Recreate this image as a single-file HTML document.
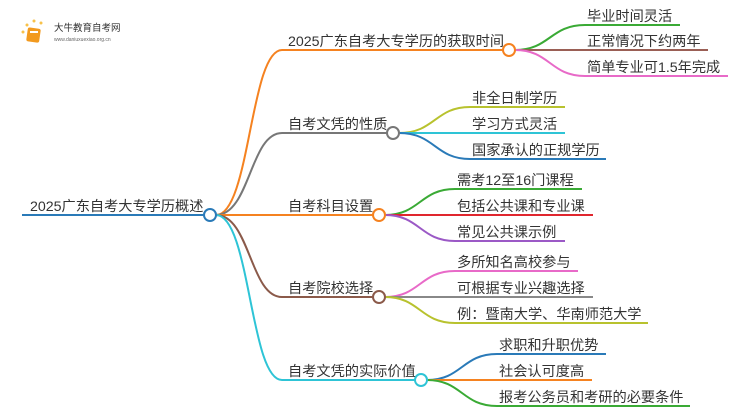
<!DOCTYPE html>
<html><head><meta charset="utf-8"><style>
html,body{margin:0;padding:0;background:#fff;width:750px;height:410px;overflow:hidden}
text{font-family:"Liberation Sans","Noto Sans CJK SC",sans-serif;fill:#333;font-size:14.2px}
</style></head><body>
<svg width="750" height="410" viewBox="0 0 750 410" xmlns="http://www.w3.org/2000/svg">
<g fill="none" stroke-width="2">
<path d="M22 215 H204" stroke="#2a7ab8"/>
<path d="M216 215 C250 215 250 50 282 50 H503" stroke="#f58220"/>
<path d="M216 215 C250 215 250 133 282 133 H387" stroke="#777"/>
<path d="M216 215 H373" stroke="#f58220"/>
<path d="M216 215 C250 215 250 297 282 297 H373" stroke="#8b5a4a"/>
<path d="M216 215 C250 215 250 380 282 380 H415" stroke="#2ec4d6"/>
<path d="M515 50 C550 50 550 25 585 25 H680" stroke="#3aaa35"/>
<path d="M515 50 H708" stroke="#9a5f55"/>
<path d="M515 50 C550 50 550 76 585 76 H728" stroke="#e86ac8"/>
<path d="M399 133 C435 133 435 107 470 107 H565" stroke="#b8c22e"/>
<path d="M399 133 H565" stroke="#2ec4d6"/>
<path d="M399 133 C435 133 435 159 470 159 H606" stroke="#2a7ab8"/>
<path d="M385 215 C420 215 420 189 455 189 H582" stroke="#3aaa35"/>
<path d="M385 215 H593" stroke="#e0262e"/>
<path d="M385 215 C420 215 420 241 455 241 H565" stroke="#9b59c6"/>
<path d="M385 297 C420 297 420 271 455 271 H578" stroke="#e86ac8"/>
<path d="M385 297 H593" stroke="#888"/>
<path d="M385 297 C420 297 420 323 455 323 H648" stroke="#b8c22e"/>
<path d="M427 380 C462 380 462 354 497 354 H606" stroke="#2a7ab8"/>
<path d="M427 380 H592" stroke="#f58220"/>
<path d="M427 380 C462 380 462 406 497 406 H690" stroke="#3aaa35"/>
</g>
<g fill="#fff" stroke-width="2">
<circle cx="210" cy="215" r="6" stroke="#2a7ab8"/>
<circle cx="509" cy="50" r="6" stroke="#f58220"/>
<circle cx="393" cy="133" r="6" stroke="#777"/>
<circle cx="379" cy="215" r="6" stroke="#f58220"/>
<circle cx="379" cy="297" r="6" stroke="#8b5a4a"/>
<circle cx="421" cy="380" r="6" stroke="#2ec4d6"/>
</g>
<text x="30" y="211">2025广东自考大专学历概述</text>
<text x="288" y="46">2025广东自考大专学历的获取时间</text>
<text x="288" y="129">自考文凭的性质</text>
<text x="288" y="211">自考科目设置</text>
<text x="288" y="293">自考院校选择</text>
<text x="288" y="376">自考文凭的实际价值</text>
<text x="587" y="21">毕业时间灵活</text>
<text x="587" y="46">正常情况下约两年</text>
<text x="587" y="72">简单专业可1.5年完成</text>
<text x="472" y="103">非全日制学历</text>
<text x="472" y="129">学习方式灵活</text>
<text x="472" y="155">国家承认的正规学历</text>
<text x="457" y="185">需考12至16门课程</text>
<text x="457" y="211">包括公共课和专业课</text>
<text x="457" y="237">常见公共课示例</text>
<text x="457" y="267">多所知名高校参与</text>
<text x="457" y="293">可根据专业兴趣选择</text>
<text x="457" y="319">例：暨南大学、华南师范大学</text>
<text x="499" y="350">求职和升职优势</text>
<text x="499" y="376">社会认可度高</text>
<text x="499" y="402">报考公务员和考研的必要条件</text>
<g>
<circle cx="23" cy="32" r="1.5" fill="#f8c24a"/><circle cx="27" cy="25" r="1.5" fill="#f8c24a"/>
<circle cx="34" cy="21" r="1.5" fill="#f8c24a"/><circle cx="41" cy="23" r="1.5" fill="#f8c24a"/>
<rect x="27" y="28" width="13" height="14" rx="2" fill="#f29a1f" transform="rotate(8 33 35)"/>
<rect x="30" y="31" width="8" height="2" fill="#fff"/>
<text x="54" y="31" style="font-size:9.5px">大牛教育自考网</text>
<text x="54" y="41" style="font-size:5px;fill:#666">www.daniuxuexiao.org.cn</text>
</g>
</svg>
</body></html>
